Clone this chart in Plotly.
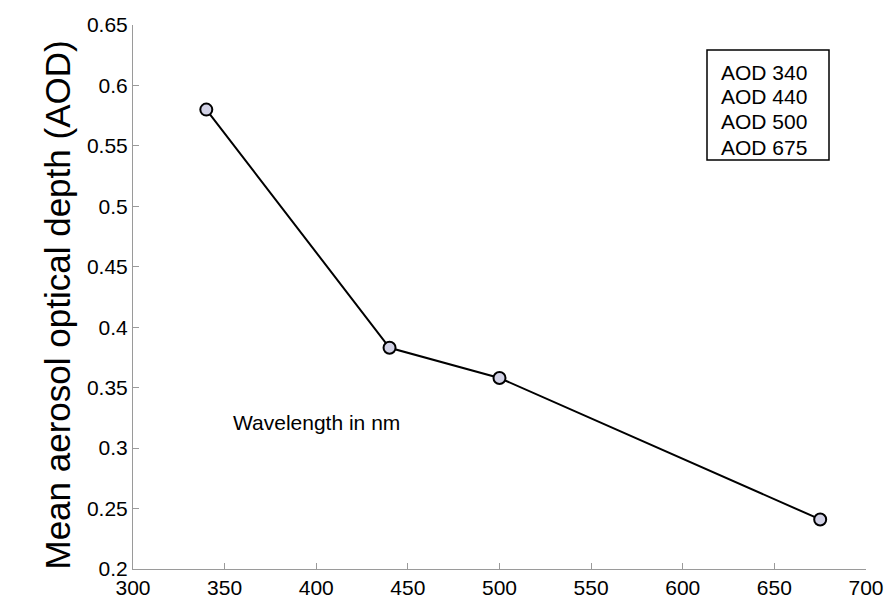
import plotly.graph_objects as go

wavelength = [340, 440, 500, 675]
aod = [0.58, 0.383, 0.358, 0.241]
legend_labels = ["AOD 340", "AOD 440", "AOD 500", "AOD 675"]
x_ticks = [300, 350, 400, 450, 500, 550, 600, 650, 700]
y_ticks = [0.2, 0.25, 0.3, 0.35, 0.4, 0.45, 0.5, 0.55, 0.6, 0.65]

W, H = 888, 601
L, R, T, B = 133, 22, 25, 32
pw = W - L - R
ph = H - T - B


def px(x):
    return (x - L) / pw


def py(y):
    return 1 - (y - T) / ph


fig = go.Figure()
fig.add_trace(go.Scatter(
    x=wavelength, y=aod, mode="lines+markers",
    line=dict(color="black", width=2),
    marker=dict(size=12, color="#d2d2e6", line=dict(color="black", width=2)),
    showlegend=False, cliponaxis=False,
))

font = "Liberation Sans, Arial, sans-serif"
axis_common = dict(
    showgrid=False, zeroline=False, showline=True, linecolor="#9a9a9a", linewidth=1,
    ticks="inside", ticklen=6, tickcolor="#9a9a9a", mirror=False, automargin=False,
    tickfont=dict(family=font, size=21, color="black"),
)
fig.update_xaxes(range=[300, 700], tickvals=x_ticks, ticktext=[str(v) for v in x_ticks], **axis_common)
fig.update_yaxes(range=[0.2, 0.65], tickvals=y_ticks, ticktext=[f"{v:g}" for v in y_ticks], **axis_common)

# legend box
fig.add_shape(type="rect", xref="paper", yref="paper",
              x0=px(707), x1=px(829), y0=py(160), y1=py(50),
              line=dict(color="black", width=1.5), fillcolor="white")
for lbl, yc in zip(legend_labels, [72, 97, 121, 147]):
    fig.add_annotation(
        text=lbl, xref="paper", yref="paper", x=px(719), y=py(yc),
        xanchor="left", yanchor="middle", showarrow=False,
        font=dict(family=font, size=21, color="black"),
    )

fig.add_annotation(
    text="Wavelength in nm", x=400, y=0.321, showarrow=False,
    font=dict(family=font, size=21, color="black"),
)
fig.add_annotation(
    text="Mean aerosol optical depth (AOD)", xref="paper", yref="paper",
    x=px(35), y=py(305), textangle=-90, showarrow=False,
    font=dict(family=font, size=35, color="black"),
)

fig.update_layout(
    width=W, height=H, margin=dict(l=L, r=R, t=T, b=B),
    plot_bgcolor="white", paper_bgcolor="white",
)
fig.write_html("out.html")
